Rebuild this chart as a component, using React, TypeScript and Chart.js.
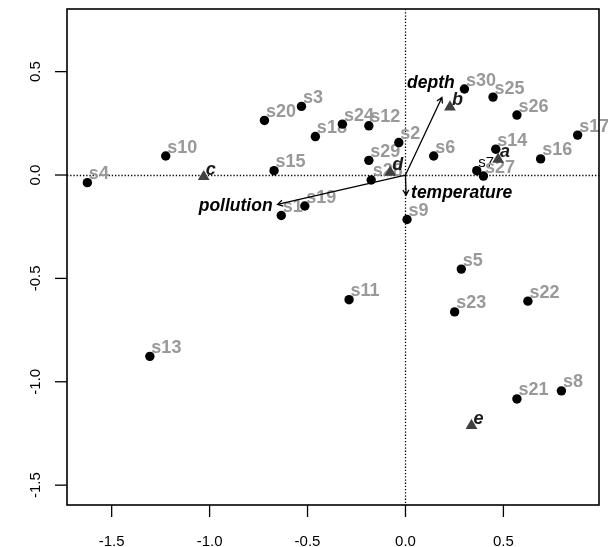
import React, { useEffect, useRef } from "react";
import Chart from "chart.js/auto";

// ---- data ----
const siteNames = ["s1","s2","s3","s4","s5","s6","s7","s8","s9","s10","s11","s12","s13","s14","s15","s16","s17","s18","s19","s20","s21","s22","s23","s24","s25","s26","s27","s28","s29","s30"];
const siteX = [-0.634,-0.034,-0.531,-1.624,0.285,0.144,0.364,0.796,0.008,-1.224,-0.288,-0.187,-1.305,0.461,-0.671,0.690,0.879,-0.460,-0.514,-0.720,0.569,0.625,0.251,-0.322,0.447,0.569,0.398,-0.175,-0.187,0.301];
const siteY = [-0.196,0.157,0.332,-0.037,-0.455,0.092,0.021,-1.044,-0.215,0.092,-0.603,0.238,-0.877,0.125,0.021,0.078,0.193,0.186,-0.150,0.264,-1.083,-0.610,-0.662,0.246,0.377,0.290,-0.005,-0.024,0.071,0.416];

const speciesNames = ["a","b","c","d","e"];
const speciesX = [0.473,0.227,-1.030,-0.078,0.337];
const speciesY = [0.076,0.329,-0.008,0.013,-1.212];

const envNames = ["depth","pollution","temperature"];
const envX = [0.186,-0.653,0.003];
const envY = [0.375,-0.142,-0.097];

const xTicks = [-1.5,-1.0,-0.5,0.0,0.5];
const yTicks = [-1.5,-1.0,-0.5,0.0,0.5];
const xRange = [-1.728, 0.988];
const yRange = [-1.596, 0.803];

const FONT = '"Liberation Sans", Arial, Helvetica, sans-serif';

export default function App() {
  const ref = useRef<HTMLCanvasElement | null>(null);
  useEffect(() => {
    document.body.style.margin = "0";
    const canvas = ref.current!;
    const biplot = {
      id: "biplot",
      beforeDatasetsDraw(chart: any) {
        const { ctx, chartArea: a, scales } = chart;
        const x0 = Math.round(scales.x.getPixelForValue(0)) + 0.5;
        const y0 = Math.round(scales.y.getPixelForValue(0)) + 0.5;
        ctx.save();
        ctx.strokeStyle = "#000";
        ctx.lineWidth = 1.3;
        ctx.setLineDash([1.3, 1.9]);
        ctx.beginPath();
        ctx.moveTo(a.left, y0); ctx.lineTo(a.right, y0);
        ctx.moveTo(x0, a.top); ctx.lineTo(x0, a.bottom);
        ctx.stroke();
        ctx.setLineDash([]);
        // site labels (under the points)
        ctx.textAlign = "left";
        ctx.textBaseline = "alphabetic";
        siteNames.forEach((n, i) => {
          const px = scales.x.getPixelForValue(siteX[i]);
          const py = scales.y.getPixelForValue(siteY[i]);
          if (n === "s7") {
            ctx.fillStyle = "#000";
            ctx.font = `15px ${FONT}`;
          } else {
            ctx.fillStyle = "#999999";
            ctx.font = `bold 18px ${FONT}`;
          }
          ctx.fillText(n, px + 1.5, py - 3.5);
        });
        ctx.restore();
      },
      afterDatasetsDraw(chart: any) {
        const { ctx, scales } = chart;
        const x0 = scales.x.getPixelForValue(0);
        const y0 = scales.y.getPixelForValue(0);
        ctx.save();
        // species labels
        ctx.fillStyle = "#1a1a1a";
        ctx.font = `italic bold 18px ${FONT}`;
        ctx.textAlign = "left";
        ctx.textBaseline = "alphabetic";
        speciesNames.forEach((n, i) => {
          const px = scales.x.getPixelForValue(speciesX[i]);
          const py = scales.y.getPixelForValue(speciesY[i]);
          ctx.fillText(n, px + 2, py - 2);
        });
        // arrows
        ctx.strokeStyle = "#000";
        ctx.fillStyle = "#000";
        ctx.lineWidth = 1.3;
        envNames.forEach((n, i) => {
          const tx = scales.x.getPixelForValue(envX[i]);
          const ty = scales.y.getPixelForValue(envY[i]);
          const ang = Math.atan2(ty - y0, tx - x0);
          ctx.beginPath();
          ctx.moveTo(x0, y0); ctx.lineTo(tx, ty);
          const h = 6, s = Math.PI / 6;
          ctx.moveTo(tx - h * Math.cos(ang - s), ty - h * Math.sin(ang - s));
          ctx.lineTo(tx, ty);
          ctx.lineTo(tx - h * Math.cos(ang + s), ty - h * Math.sin(ang + s));
          ctx.stroke();
          ctx.font = `italic bold 17.5px ${FONT}`;
          if (n === "depth") {
            ctx.textAlign = "center"; ctx.textBaseline = "alphabetic";
            ctx.fillText(n, tx - 11, ty - 9.5);
          } else if (n === "pollution") {
            ctx.textAlign = "right"; ctx.textBaseline = "middle";
            ctx.fillText(n, tx - 5, ty + 2);
          } else {
            ctx.textAlign = "left"; ctx.textBaseline = "middle";
            ctx.fillText(n, tx + 5, ty - 2);
          }
        });
        ctx.restore();
      },
      afterDraw(chart: any) {
        const { ctx, chartArea: a, scales } = chart;
        ctx.save();
        ctx.strokeStyle = "#000";
        ctx.lineWidth = 1.6;
        ctx.setLineDash([]);
        ctx.strokeRect(a.left, a.top, a.right - a.left, a.bottom - a.top);
        ctx.fillStyle = "#000";
        ctx.font = `15px ${FONT}`;
        ctx.lineWidth = 1.3;
        xTicks.forEach((v) => {
          const px = scales.x.getPixelForValue(v);
          ctx.beginPath();
          ctx.moveTo(px, a.bottom); ctx.lineTo(px, a.bottom + 12);
          ctx.stroke();
          ctx.textAlign = "center"; ctx.textBaseline = "alphabetic";
          ctx.fillText(v.toFixed(1), px, a.bottom + 41);
        });
        yTicks.forEach((v) => {
          const py = scales.y.getPixelForValue(v);
          ctx.beginPath();
          ctx.moveTo(a.left, py); ctx.lineTo(a.left - 12, py);
          ctx.stroke();
          ctx.save();
          ctx.translate(a.left - 27, py);
          ctx.rotate(-Math.PI / 2);
          ctx.textAlign = "center"; ctx.textBaseline = "alphabetic";
          ctx.fillText(v.toFixed(1), 0, 0);
          ctx.restore();
        });
        ctx.restore();
      },
    };
    const chart = new Chart(canvas, {
      type: "scatter",
      data: {
        datasets: [
          {
            label: "species",
            data: speciesX.map((x, i) => ({ x, y: speciesY[i] })),
            pointStyle: "triangle",
            pointRadius: 6.8,
            backgroundColor: "#404040",
            borderColor: "#404040",
            borderWidth: 0,
          },
          {
            label: "sites",
            data: siteX.map((x, i) => ({ x, y: siteY[i] })),
            pointStyle: "circle",
            pointRadius: 4.7,
            backgroundColor: "#000",
            borderColor: "#000",
            borderWidth: 0,
          },
        ],
      },
      options: {
        responsive: false,
        animation: false,
        devicePixelRatio: 1,
        layout: { padding: { left: 67, top: 9, right: 9, bottom: 42 } },
        plugins: { legend: { display: false }, tooltip: { enabled: false } },
        scales: {
          x: { type: "linear", min: xRange[0], max: xRange[1], display: false },
          y: { type: "linear", min: yRange[0], max: yRange[1], display: false },
        },
      },
      plugins: [biplot],
    });
    return () => chart.destroy();
  }, []);
  return (
    <div style={{ position: "absolute", left: 0, top: 0, width: 608, height: 547, background: "#fff" }}>
      <canvas ref={ref} width={608} height={547} />
    </div>
  );
}
